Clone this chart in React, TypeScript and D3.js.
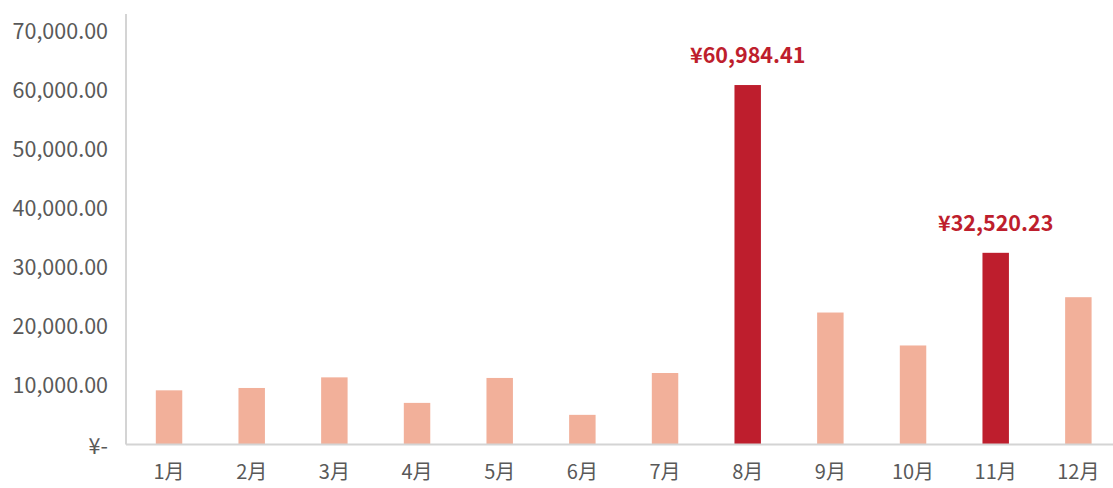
import React from "react";
import * as d3 from "d3";

const months = ["1月", "2月", "3月", "4月", "5月", "6月", "7月", "8月", "9月", "10月", "11月", "12月"];
const sales = [9190, 9590, 11390, 7060, 11290, 5030, 12130, 60984.41, 22390, 16800, 32520.23, 24990];
const highlighted = ["8月", "11月"];
const yTicks = [0, 10000, 20000, 30000, 40000, 50000, 60000, 70000];

const width = 1113;
const height = 488;

const fmt = d3.format(",.2f");
const tickLabel = (v: number) => (v === 0 ? "¥-" : fmt(v));

const App = () => {
  const x = d3.scaleBand<string>().domain(months).range([127.7, 1119.7]).paddingInner(0.68).paddingOuter(0.34);
  const y = d3.scaleLinear().domain([0, 70000]).range([444.5, 31.9]);
  const font = "'Noto Sans CJK SC', 'Noto Sans', sans-serif";

  return (
    <svg
      width={width}
      height={height}
      style={{ position: "absolute", left: 0, top: 0, background: "#fff" }}
      fontFamily={font}
    >
      {/* bars */}
      {sales.map((v, i) => {
        const m = months[i];
        const hi = highlighted.includes(m);
        return (
          <rect
            key={m}
            x={x(m)}
            y={y(v)}
            width={x.bandwidth()}
            height={y(0) - y(v)}
            fill={hi ? "#BE1E2D" : "#F2B09A"}
          />
        );
      })}

      {/* axis lines */}
      <line x1={126} x2={126} y1={14} y2={y(0)} stroke="#d4d4d4" strokeWidth={2} />
      <line x1={126} x2={width} y1={y(0)} y2={y(0)} stroke="#d4d4d4" strokeWidth={2} />

      {/* y tick labels */}
      {yTicks.map((t) => (
        <text
          key={t}
          x={108}
          y={y(t) + (t === 0 ? 4 : 1.5)}
          textAnchor="end"
          dominantBaseline="middle"
          fontSize={21.5}
          fill="#595959"
        >
          {tickLabel(t)}
        </text>
      ))}

      {/* x tick labels */}
      {months.map((m) => (
        <text
          key={m}
          x={(x(m) as number) + x.bandwidth() / 2}
          y={473.5}
          textAnchor="middle"
          dominantBaseline="middle"
          fontSize={20}
          fill="#595959"
        >
          {m}
        </text>
      ))}

      {/* value labels on highlighted bars */}
      {sales.map((v, i) => {
        const m = months[i];
        if (!highlighted.includes(m)) return null;
        return (
          <text
            key={"l" + m}
            x={(x(m) as number) + x.bandwidth() / 2}
            y={y(v) - 28}
            textAnchor="middle"
            dominantBaseline="middle"
            fontSize={21.5}
            fontWeight="bold"
            fill="#BE1E2D"
          >
            {"¥" + fmt(v)}
          </text>
        );
      })}
    </svg>
  );
};

export default App;
